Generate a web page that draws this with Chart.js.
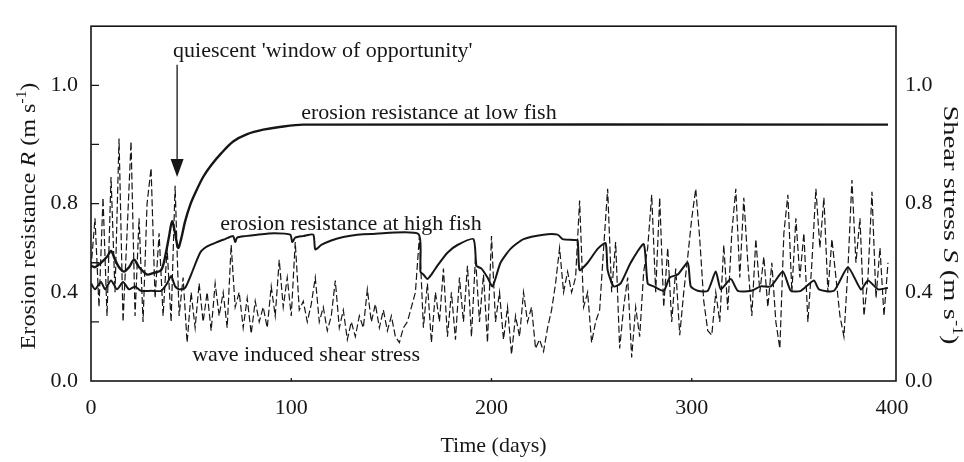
<!DOCTYPE html>
<html>
<head>
<meta charset="utf-8">
<script src="https://cdn.jsdelivr.net/npm/chart.js@4.4.0/dist/chart.umd.min.js"></script>
<style>
html, body { margin: 0; padding: 0; background: #fff; }
</style>
</head>
<body>
<canvas id="chart" width="964" height="462"></canvas>
<script>
// ---- data (y in the plot's own linear units, 0..1.2) ----
const lowFishDays = [0, 2, 5, 8, 10, 12, 14, 16.5, 19, 21.5, 24, 28, 31, 35, 37, 39, 40.5, 42, 43.5, 45, 47, 49.5, 52, 56, 60, 65, 71, 78, 86, 95, 106, 398];
const lowFishR    = [0.39, 0.385, 0.40, 0.42, 0.44, 0.41, 0.385, 0.37, 0.385, 0.41, 0.385, 0.36, 0.365, 0.375, 0.42, 0.49, 0.54, 0.50, 0.45, 0.48, 0.54, 0.595, 0.635, 0.69, 0.73, 0.77, 0.81, 0.835, 0.85, 0.86, 0.867, 0.867];

const highFishDays = [0, 2, 5, 7, 10, 13, 16, 19, 22, 25, 30, 35, 38, 40, 42, 44, 47, 50, 54.5, 58, 63, 67, 71, 72, 73, 77, 83, 91.5, 99.5, 100.5, 102, 106, 111, 112, 115, 120, 126, 133, 140, 163.5,
  164.5, 166, 168, 170, 173, 178, 183, 191, 192.5, 195, 198, 200.5, 204.5, 209.5, 216, 226, 233, 235.5, 241, 243, 244, 248, 253, 257, 258, 261, 264.5, 269.5, 276, 278, 281, 286, 289, 293, 298, 299.5, 303,
  308, 312, 314.5, 319.5, 323, 329.5, 334.5, 339.5, 345.5, 349.5, 354.5, 361, 363.5, 371, 378, 384.5, 388, 393, 398];
const highFishR = [0.33, 0.31, 0.335, 0.31, 0.34, 0.31, 0.335, 0.31, 0.32, 0.305, 0.305, 0.305, 0.33, 0.355, 0.32, 0.31, 0.315, 0.36, 0.434, 0.455, 0.47, 0.48, 0.49, 0.47, 0.485, 0.49, 0.495, 0.50, 0.495, 0.47, 0.485, 0.49, 0.495, 0.445, 0.46, 0.475, 0.487, 0.495, 0.497, 0.497,
  0.37, 0.36, 0.345, 0.36, 0.39, 0.434, 0.46, 0.48, 0.39, 0.38, 0.35, 0.32, 0.40, 0.447, 0.48, 0.495, 0.495, 0.48, 0.477, 0.475, 0.375, 0.40, 0.447, 0.466, 0.375, 0.32, 0.33, 0.40, 0.463, 0.33, 0.32, 0.305, 0.35, 0.36, 0.40, 0.32, 0.305,
  0.305, 0.37, 0.31, 0.345, 0.305, 0.305, 0.32, 0.32, 0.37, 0.305, 0.305, 0.34, 0.31, 0.305, 0.385, 0.31, 0.34, 0.31, 0.315];

// wave induced shear stress, one reading every 2 days from day 0
const shearStep = 2;
const shearS = [
  0.38, 0.55, 0.25, 0.62, 0.22, 0.69, 0.30, 0.82, 0.20, 0.50,
  0.81, 0.22, 0.55, 0.20, 0.60, 0.72, 0.28, 0.50, 0.22, 0.45,
  0.20, 0.66, 0.22, 0.35, 0.13, 0.30, 0.18, 0.33, 0.20, 0.30,
  0.17, 0.33, 0.22, 0.30, 0.18, 0.46, 0.25, 0.30, 0.18, 0.28,
  0.16, 0.27, 0.20, 0.25, 0.18, 0.32, 0.22, 0.41, 0.25, 0.35,
  0.22, 0.47, 0.24, 0.27, 0.20, 0.26, 0.35, 0.20, 0.25, 0.17,
  0.22, 0.34, 0.18, 0.24, 0.14, 0.20, 0.15, 0.22, 0.18, 0.31,
  0.20, 0.26, 0.18, 0.24, 0.17, 0.22, 0.15, 0.13, 0.18, 0.20,
  0.25, 0.30, 0.49, 0.18, 0.33, 0.13, 0.30, 0.20, 0.38, 0.15,
  0.30, 0.14, 0.35, 0.20, 0.39, 0.15, 0.42, 0.20, 0.36, 0.13,
  0.49, 0.20, 0.30, 0.14, 0.25, 0.09, 0.22, 0.15, 0.30, 0.20,
  0.25, 0.11, 0.14, 0.10, 0.18, 0.24, 0.33, 0.45, 0.30, 0.37,
  0.30, 0.35, 0.61, 0.25, 0.30, 0.13, 0.20, 0.24, 0.45, 0.65,
  0.30, 0.47, 0.11, 0.25, 0.35, 0.08, 0.25, 0.15, 0.37, 0.45,
  0.63, 0.30, 0.62, 0.25, 0.45, 0.20, 0.38, 0.155, 0.30, 0.42,
  0.55, 0.65, 0.48, 0.27, 0.17, 0.155, 0.30, 0.20, 0.46, 0.24,
  0.50, 0.65, 0.35, 0.62, 0.40, 0.22, 0.48, 0.30, 0.42, 0.25,
  0.40, 0.20, 0.11, 0.50, 0.63, 0.30, 0.55, 0.35, 0.50, 0.20,
  0.40, 0.65, 0.45, 0.62, 0.30, 0.48, 0.35, 0.22, 0.15, 0.38,
  0.68, 0.40, 0.55, 0.22, 0.35, 0.64, 0.28, 0.45, 0.22, 0.40
];

// axis ticks as printed on the figure
const xTickValues = [0, 100, 200, 300, 400];
const yLabelAt    = [0, 0.3, 0.6, 1.0];
const yLabels     = ['0.0', '0.4', '0.8', '1.0'];
const yTickMarks  = [0.2, 0.4, 0.6, 0.8, 1.0];

const FONT = '"Liberation Serif", "Times New Roman", serif';
const INK  = '#161616';

const toXY = (xs, ys) => ys.map((v, i) => ({ x: xs[i], y: v }));
const shearDays = shearS.map((_, i) => i * shearStep);

const notes = [
    { text: "quiescent 'window of opportunity'", day: 41, r: 1.097 },
    { text: 'erosion resistance at low fish',    day: 105, r: 0.887 },
    { text: 'erosion resistance at high fish',   day: 64.5, r: 0.511 },
    { text: 'wave induced shear stress',         day: 50.5, r: 0.068 }
];
const arrow = { day: 43, from: 1.07, to: 0.69 };

// rich text (italic letter, superscript) along a rotated baseline, stretched like the scan
function drawRuns(ctx, runs, cx, cy, rot, stretch) {
    ctx.save();
    ctx.translate(cx, cy);
    ctx.rotate(rot);
    ctx.scale(stretch || 1, 1);
    let total = 0;
    runs.forEach(r => { ctx.font = r.font; total += ctx.measureText(r.t).width; });
    let px = -total / 2;
    runs.forEach(r => {
        ctx.font = r.font;
        ctx.fillText(r.t, px, r.dy || 0);
        px += ctx.measureText(r.t).width;
    });
    ctx.restore();
}

const decor = {
    id: 'decor',
    afterDatasetsDraw(chart) {
        const { ctx, chartArea: a, scales: { x, y } } = chart;
        ctx.save();
        ctx.strokeStyle = INK;
        ctx.fillStyle = INK;
        ctx.lineWidth = 1.6;
        ctx.strokeRect(a.left, a.top, a.right - a.left, a.bottom - a.top);

        // inward tick marks
        ctx.lineWidth = 1.3;
        ctx.beginPath();
        yTickMarks.forEach(v => { const py = y.getPixelForValue(v); ctx.moveTo(a.left, py); ctx.lineTo(a.left + 8, py); });
        xTickValues.slice(1, -1).forEach(v => { const px = x.getPixelForValue(v); ctx.moveTo(px, a.bottom); ctx.lineTo(px, a.bottom - 3); });
        ctx.stroke();

        // arrow to the quiet window
        const ax = x.getPixelForValue(arrow.day);
        const ay0 = y.getPixelForValue(arrow.from), ay1 = y.getPixelForValue(arrow.to);
        ctx.lineWidth = 1.3;
        ctx.beginPath(); ctx.moveTo(ax, ay0); ctx.lineTo(ax, ay1 - 16); ctx.stroke();
        ctx.beginPath(); ctx.moveTo(ax - 6.5, ay1 - 18); ctx.lineTo(ax + 6.5, ay1 - 18); ctx.lineTo(ax, ay1); ctx.closePath(); ctx.fill();

        // labels inside the plot
        ctx.font = '22px ' + FONT;
        ctx.textBaseline = 'alphabetic';
        notes.forEach(n => ctx.fillText(n.text, x.getPixelForValue(n.day), y.getPixelForValue(n.r)));
        ctx.restore();
    },
    afterDraw(chart) {
        const { ctx, chartArea: a } = chart;
        const f = '22px ' + FONT, fi = 'italic 22px ' + FONT, fs = '14px ' + FONT;
        ctx.save();
        ctx.fillStyle = INK;
        ctx.textBaseline = 'alphabetic';
        drawRuns(ctx, [
            { t: 'Erosion resistance ', font: f }, { t: 'R', font: fi }, { t: ' (m s', font: f },
            { t: '-1', font: fs, dy: -9 }, { t: ')', font: f }
        ], 35, 216, -Math.PI / 2, 1.1);
        drawRuns(ctx, [
            { t: 'Shear stress ', font: f }, { t: 'S', font: fi }, { t: ' (m s', font: f },
            { t: '-1', font: fs, dy: -9 }, { t: ')', font: f }
        ], 944, 225, Math.PI / 2, 1.3);
        drawRuns(ctx, [{ t: 'Time (days)', font: f }], (a.left + a.right) / 2, 452, 0);
        ctx.restore();
    }
};

const tickFont = { family: FONT, size: 22 };

new Chart(document.getElementById('chart'), {
    type: 'line',
    data: {
        datasets: [
            {
                label: 'wave induced shear stress',
                data: toXY(shearDays, shearS),
                borderColor: INK, borderWidth: 1.2, borderDash: [7, 3],
                pointRadius: 0, tension: 0, yAxisID: 'y'
            },
            {
                label: 'erosion resistance at high fish',
                data: toXY(highFishDays, highFishR),
                borderColor: INK, borderWidth: 2, pointRadius: 0, tension: 0.2, yAxisID: 'y'
            },
            {
                label: 'erosion resistance at low fish',
                data: toXY(lowFishDays, lowFishR),
                borderColor: INK, borderWidth: 2.4, pointRadius: 0, tension: 0.3, yAxisID: 'y'
            }
        ]
    },
    options: {
        responsive: false,
        animation: false,
        layout: { padding: { top: 12, left: 0, right: 0, bottom: 0 } },
        plugins: { legend: { display: false }, tooltip: { enabled: false } },
        scales: {
            x: {
                type: 'linear', min: 0, max: 402,
                afterBuildTicks: s => { s.ticks = xTickValues.map(v => ({ value: v })); },
                afterFit: s => { s.height = 81; },
                grid: { display: false, drawTicks: false }, border: { display: false },
                ticks: { font: tickFont, color: INK, padding: 14, maxRotation: 0, callback: v => String(v) }
            },
            y: {
                type: 'linear', position: 'left', min: 0, max: 1.2,
                afterBuildTicks: s => { s.ticks = yLabelAt.map(v => ({ value: v })); },
                afterFit: s => { s.width = 91; },
                grid: { display: false, drawTicks: false }, border: { display: false },
                ticks: { font: tickFont, color: INK, padding: 13, callback: (v, i) => yLabels[i] }
            },
            y2: {
                type: 'linear', position: 'right', min: 0, max: 1.2,
                afterBuildTicks: s => { s.ticks = yLabelAt.map(v => ({ value: v })); },
                afterFit: s => { s.width = 68; },
                grid: { display: false, drawTicks: false }, border: { display: false },
                ticks: { font: tickFont, color: INK, padding: 9, callback: (v, i) => yLabels[i] }
            }
        }
    },
    plugins: [decor]
});
</script>
</body>
</html>
